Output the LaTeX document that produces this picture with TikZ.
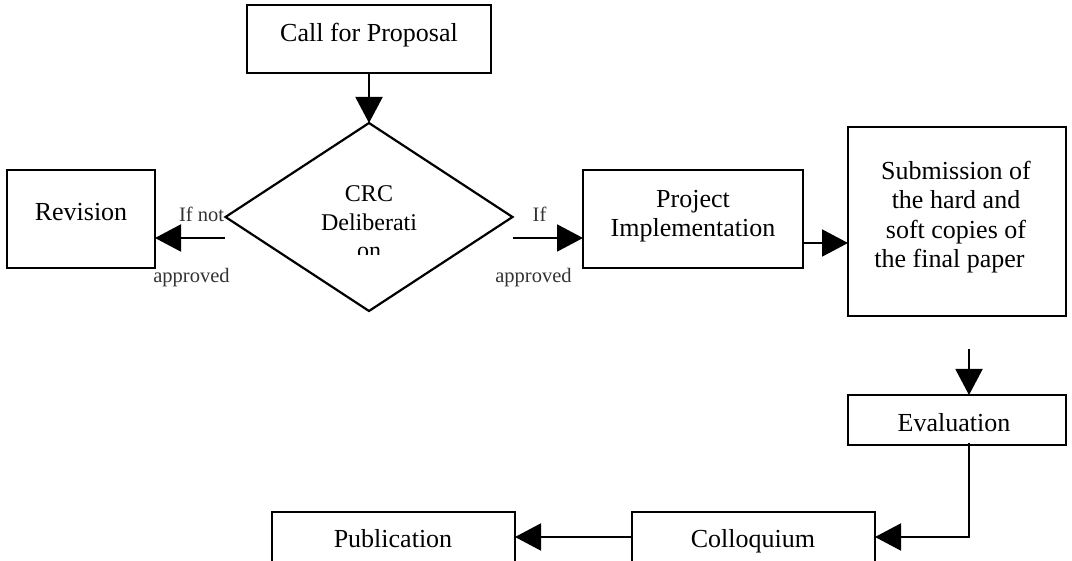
\documentclass[tikz,border=0pt]{standalone}
\usepackage{fontspec}
\setmainfont{Liberation Serif}
\usetikzlibrary{arrows.meta,shapes.geometric}
\begin{document}
\begin{tikzpicture}[x=1pt,y=-1pt,
  box/.style={draw, line width=2.2pt, inner sep=0pt, outer sep=0pt},
  conn/.style={line width=2pt, -{Triangle[length=26pt,width=27pt]}},
  plain/.style={line width=2pt},
  main/.style={font=\fontsize{26}{29.6}\selectfont, inner sep=0pt, align=center, anchor=base},
  dia/.style={font=\fontsize{24}{28.5}\selectfont, inner sep=0pt, align=center, anchor=base},
  small/.style={font=\fontsize{20.5}{22}\selectfont, inner sep=0pt, anchor=base, text=black!80}]
\useasboundingbox (0,0) rectangle (1072,561);
\clip (0,0) rectangle (1072,561);

% boxes
\node[box, minimum width=244pt, minimum height=68pt] (call) at (369,39) {};
\node[box, shape=diamond, minimum width=287pt, minimum height=188pt] (crc) at (369,217) {};
\node[box, minimum width=148pt, minimum height=98pt] (rev) at (81,219) {};
\node[box, minimum width=220pt, minimum height=98pt] (proj) at (693,219) {};
\node[box, minimum width=218pt, minimum height=189pt] (sub) at (957,221.5) {};
\node[box, minimum width=218pt, minimum height=50pt] (eval) at (957,420) {};
\node[box, minimum width=243pt, minimum height=60pt] (col) at (753.5,542) {};
\node[box, minimum width=243pt, minimum height=60pt] (pub) at (393.5,542) {};

% texts
\node[main] (callT) at (369,42) {Call for Proposal};
\node[main] (revT) at (81,221) {Revision};
\node[main] (projT) at (693,237) {Project\\Implementation};
\node[main] (subT) at (956,268) {Submission of\\the hard and\\soft copies of\\the final paper\hspace*{13pt}};
\node[main] (evalT) at (954,432) {Evaluation};
\node[main] (colT) at (753,547) {Colloquium};
\node[main] (pubT) at (393,547) {Publication};
\begin{scope}
  \clip (250,150) rectangle (490,255);
  \node[dia] (crcT) at (369,259) {CRC\\Deliberati\\on};
\end{scope}

% labels
\node[small] (ifnot) at (201.5,222) {If not};
\node[small] (appL) at (191.5,283) {approved};
\node[small] (ifR) at (539.5,222) {If};
\node[small] (appR) at (533.5,283) {approved};

% coordinates
\coordinate (nl) at (225,238);
\coordinate (nr) at (513,238);
\coordinate (ps) at (802,243);
\coordinate (se) at (969,349);
\coordinate (cy) at (0,537);

% connectors
\draw[conn] (call.south) -- (crc.north);
\draw[conn] (nl) -- (rev.east |- nl);
\draw[conn] (nr) -- (proj.west |- nr);
\draw[conn] (ps) -- (sub.west |- ps);
\draw[conn] (se) -- (se |- eval.north);
\draw[conn] ([yshift=2pt]se |- eval.south) |- (col.east |- cy);
\draw[conn] (col.west |- cy) -- (pub.east |- cy);
\end{tikzpicture}
\end{document}
